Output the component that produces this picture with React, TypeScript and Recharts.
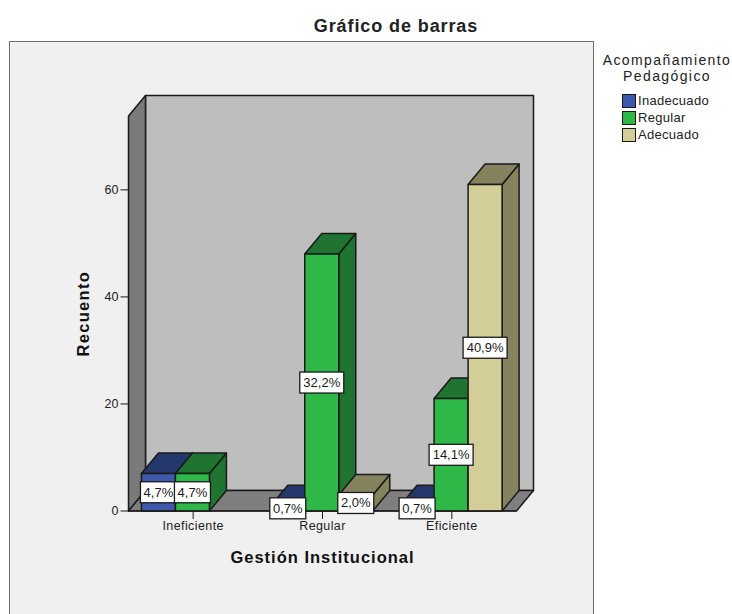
import { BarChart, Bar, XAxis, YAxis, Legend, LabelList, Customized } from 'recharts';

const categories = ['Ineficiente', 'Regular', 'Eficiente'];
const inadecuado = [7, 1, 1];
const regular = [7, 48, 21];
const adecuado = [null, 3, 61];
const inadecuadoPct = ['4,7%', '0,7%', '0,7%'];
const regularPct = ['4,7%', '32,2%', '14,1%'];
const adecuadoPct = ['', '2,0%', '40,9%'];
const yTicks = [0, 20, 40, 60];

const data = categories.map((name, i) => ({
  name,
  inadecuado: inadecuado[i],
  regular: regular[i],
  adecuado: adecuado[i],
  inadecuadoPct: inadecuadoPct[i],
  regularPct: regularPct[i],
  adecuadoPct: adecuadoPct[i],
}));

const FONT = '"Liberation Sans", Arial, sans-serif';
const INK = '#1a1a1a';
const DX = 17;
const DY = 20.5;
const LEGEND_W = 130;
const M = { top: 116, right: 85.5, bottom: 43, left: 68.5 };
const Y_W = 60;
const X_H = 60;
const CHART_W = 732;
const CHART_H = 614;

// the box behind the bars: left wall, floor, back wall
function Walls() {
  const l = M.left + Y_W;
  const r = CHART_W - M.right - LEGEND_W;
  const t = M.top;
  const b = CHART_H - M.bottom - X_H;
  return (
    <g stroke={INK} strokeWidth={1.5} strokeLinejoin="round">
      <polygon points={`${l + DX},${t - DY} ${r + DX},${t - DY} ${r + DX},${b - DY} ${l + DX},${b - DY}`} fill="#bebebe" />
      <polygon points={`${l},${t} ${l + DX},${t - DY} ${l + DX},${b - DY} ${l},${b}`} fill="#7a7a7a" />
      <polygon points={`${l},${b} ${l + DX},${b - DY} ${r + DX},${b - DY} ${r},${b}`} fill="#7f7f7f" />
    </g>
  );
}

function Box3D(props: any) {
  const { x, y, width, height, fill, dark } = props;
  if (height == null || width == null) return null;
  const r = x + width;
  const b = y + height;
  return (
    <g stroke={INK} strokeWidth={1.5} strokeLinejoin="round">
      <polygon points={`${r},${y} ${r + DX},${y - DY} ${r + DX},${b - DY} ${r},${b}`} fill={dark} />
      <polygon points={`${x},${y} ${x + DX},${y - DY} ${r + DX},${y - DY} ${r},${y}`} fill={dark} />
      <rect x={x} y={y} width={width} height={height} fill={fill} />
    </g>
  );
}

function PctLabel(props: any) {
  const { x, y, width, height, value } = props;
  if (!value) return null;
  const w = value.length > 4 ? 44 : 36;
  const cx = x + width / 2;
  const cy = y + height / 2;
  return (
    <g>
      <rect x={cx - w / 2} y={cy - 10.5} width={w} height={21} fill="#fff" stroke={INK} strokeWidth={1.3} />
      <text x={cx} y={cy + 4.5} textAnchor="middle" fontSize={13} fontFamily={FONT} fill={INK}>{value}</text>
    </g>
  );
}

function LegendBox({ payload }: any) {
  return (
    <div style={{ fontFamily: FONT, color: '#222' }}>
      <div style={{ textAlign: 'center', fontSize: 14, letterSpacing: 1.4, lineHeight: '16px', width: LEGEND_W, whiteSpace: 'nowrap' }}>
        Acompañamiento<br />Pedagógico
      </div>
      <div style={{ marginTop: 8, marginLeft: 20 }}>
        {(payload || []).map((p: any) => (
          <div key={p.value} style={{ display: 'flex', alignItems: 'center', height: 17, fontSize: 13, letterSpacing: 0.3 }}>
            <span style={{ width: 12, height: 12, background: p.color, border: `1px solid ${INK}`, marginRight: 2 }} />
            {p.value}
          </div>
        ))}
      </div>
    </div>
  );
}

export default function App() {
  return (
    <div style={{ position: 'absolute', left: 0, top: 0, width: CHART_W, height: CHART_H, overflow: 'hidden', background: '#fff', fontFamily: FONT }}>
      <div style={{ position: 'absolute', left: 9, top: 41, width: 583, height: 600, background: '#f0f0f0', border: '1.5px solid #6e6e6e' }} />
      <div style={{ position: 'absolute', left: 200, width: 392, top: 16, textAlign: 'center', fontWeight: 700, fontSize: 18, letterSpacing: 0.9, color: '#222' }}>
        Gráfico de barras
      </div>
      <div style={{ position: 'absolute', left: 0, top: 0 }}>
        <BarChart width={CHART_W} height={CHART_H} data={data} margin={M} barCategoryGap="10%" barGap={0}>
          <Customized component={Walls} />
          <XAxis
            dataKey="name"
            height={X_H}
            stroke={INK}
            tickSize={8}
            tick={{ fontSize: 12.5, fill: '#222', fontFamily: FONT, letterSpacing: 0.4 }}
            label={{ value: 'Gestión Institucional', position: 'insideBottom', offset: 8, fontSize: 16.5, fontWeight: 700, letterSpacing: 1, fill: '#111', fontFamily: FONT }}
          />
          <YAxis
            width={Y_W}
            domain={[0, 73.8]}
            ticks={yTicks}
            stroke={INK}
            tickSize={8}
            tick={{ fontSize: 12.5, fill: '#222', fontFamily: FONT }}
            label={{ value: 'Recuento', angle: -90, position: 'insideLeft', offset: 15, dy: 43, fontSize: 16.5, fontWeight: 700, letterSpacing: 1.3, fill: '#111', fontFamily: FONT }}
          />
          <Legend
            layout="vertical"
            align="right"
            verticalAlign="top"
            itemSorter={null}
            content={<LegendBox />}
            wrapperStyle={{ position: 'absolute', left: 602, top: 52, width: LEGEND_W }}
          />
          <Bar dataKey="inadecuado" name="Inadecuado" fill="#3e58ac" isAnimationActive={false} shape={<Box3D dark="#25386e" />}>
            <LabelList dataKey="inadecuadoPct" content={<PctLabel />} />
          </Bar>
          <Bar dataKey="regular" name="Regular" fill="#2eb848" isAnimationActive={false} shape={<Box3D dark="#1e7430" />}>
            <LabelList dataKey="regularPct" content={<PctLabel />} />
          </Bar>
          <Bar dataKey="adecuado" name="Adecuado" fill="#d3ce97" isAnimationActive={false} shape={<Box3D dark="#85825e" />}>
            <LabelList dataKey="adecuadoPct" content={<PctLabel />} />
          </Bar>
        </BarChart>
      </div>
    </div>
  );
}
